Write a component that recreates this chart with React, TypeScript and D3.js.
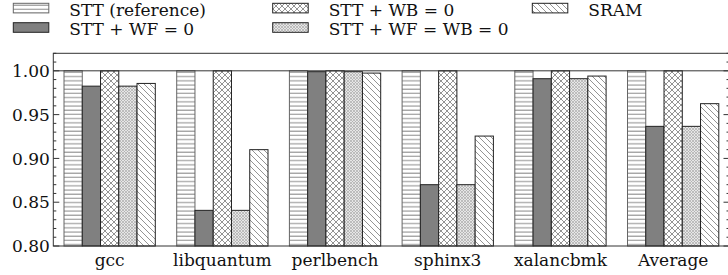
import React, { useEffect, useRef } from 'react';
import * as d3 from 'd3';

const categories = ['gcc', 'libquantum', 'perlbench', 'sphinx3', 'xalancbmk', 'Average'];
const seriesNames = ['STT (reference)', 'STT + WF = 0', 'STT + WB = 0', 'STT + WF = WB = 0', 'SRAM'];
const sttRef = [1.0, 1.0, 1.0, 1.0, 1.0, 1.0];
const sttWF = [0.9825, 0.8407, 0.999, 0.870, 0.991, 0.9366];
const sttWB = [1.0, 1.0, 1.0, 1.0, 1.0, 1.0];
const sttWFWB = [0.9825, 0.8407, 0.999, 0.870, 0.991, 0.9366];
const sram = [0.9856, 0.910, 0.9974, 0.9255, 0.994, 0.9625];
const yMajorTicks = [0.8, 0.85, 0.9, 0.95, 1.0];

const FONT = "'DejaVu Serif', serif";

const App = () => {
  const ref = useRef<SVGSVGElement | null>(null);

  useEffect(() => {
    const W = 728;
    const H = 275;
    const left = 53.3;
    const right = 729.5;
    const top = 53.3;
    const bottom = 246;

    const series = [sttRef, sttWF, sttWB, sttWFWB, sram];
    const styles = [
      { fill: 'url(#hRef)', stroke: '#666' },
      { fill: '#808080', stroke: '#222' },
      { fill: 'url(#hWB)', stroke: '#222' },
      { fill: 'url(#hWFWB)', stroke: '#222' },
      { fill: 'url(#hSRAM)', stroke: '#222' },
    ];

    const svg = d3.select(ref.current).attr('width', W).attr('height', H);
    svg.selectAll('*').remove();

    const defs = svg.append('defs');
    const pRef = defs.append('pattern').attr('id', 'hRef').attr('patternUnits', 'userSpaceOnUse')
      .attr('width', 8).attr('height', 4.2);
    pRef.append('rect').attr('width', 8).attr('height', 4.2).attr('fill', '#fff');
    pRef.append('line').attr('x1', 0).attr('x2', 8).attr('y1', 1).attr('y2', 1)
      .attr('stroke', '#8a8a8a').attr('stroke-width', 1);

    const pWB = defs.append('pattern').attr('id', 'hWB').attr('patternUnits', 'userSpaceOnUse')
      .attr('width', 6).attr('height', 6);
    pWB.append('rect').attr('width', 6).attr('height', 6).attr('fill', '#fff');
    pWB.append('path').attr('d', 'M0,0L6,6M6,0L0,6M-1,5L1,7M5,-1L7,1M-1,1L1,-1M5,7L7,5')
      .attr('stroke', '#888').attr('stroke-width', 0.9);

    const pWFWB = defs.append('pattern').attr('id', 'hWFWB').attr('patternUnits', 'userSpaceOnUse')
      .attr('width', 3).attr('height', 3);
    pWFWB.append('rect').attr('width', 3).attr('height', 3).attr('fill', '#e6e6e6');
    pWFWB.append('path').attr('d', 'M0,0L3,3M3,0L0,3')
      .attr('stroke', '#acacac').attr('stroke-width', 0.7);

    const pSRAM = defs.append('pattern').attr('id', 'hSRAM').attr('patternUnits', 'userSpaceOnUse')
      .attr('width', 6).attr('height', 6);
    pSRAM.append('rect').attr('width', 6).attr('height', 6).attr('fill', '#fff');
    pSRAM.append('path').attr('d', 'M0,0L6,6M-3,3L0,6M3,-3L9,3M3,9L6,6')
      .attr('stroke', '#888').attr('stroke-width', 0.9);

    const x0 = d3.scaleBand<string>().domain(categories).range([left, right])
      .paddingInner(0.19).paddingOuter(0.095);
    const x1 = d3.scaleBand<number>().domain(d3.range(series.length)).range([0, x0.bandwidth()]);
    const y = d3.scaleLinear().domain([0.8, 1.02]).range([bottom, top]);

    // bars
    series.forEach((vals, si) => {
      svg.append('g')
        .selectAll('rect')
        .data(vals)
        .join('rect')
        .attr('x', (_d, i) => (x0(categories[i]) as number) + (x1(si) as number))
        .attr('y', d => y(d))
        .attr('width', x1.bandwidth())
        .attr('height', d => y(0.8) - y(d))
        .attr('fill', styles[si].fill)
        .attr('stroke', styles[si].stroke)
        .attr('stroke-width', 1);
    });

    // reference line at 1.0
    svg.append('line')
      .attr('x1', left).attr('x2', right)
      .attr('y1', y(1.0)).attr('y2', y(1.0))
      .attr('stroke', '#333').attr('stroke-width', 1);

    // frame
    svg.append('rect')
      .attr('x', left).attr('y', top)
      .attr('width', right - left).attr('height', bottom - top)
      .attr('fill', 'none').attr('stroke', '#333').attr('stroke-width', 1);

    // y ticks, inward on both sides
    const minor = d3.range(80, 103).map(v => v / 100)
      .filter(v => !yMajorTicks.some(m => Math.abs(m - v) < 1e-6));
    const tg = svg.append('g').attr('stroke', '#333').attr('stroke-width', 1);
    minor.forEach(v => {
      tg.append('line').attr('x1', left).attr('x2', left + 3).attr('y1', y(v)).attr('y2', y(v));
      tg.append('line').attr('x1', right).attr('x2', right - 3).attr('y1', y(v)).attr('y2', y(v));
    });
    yMajorTicks.forEach(v => {
      tg.append('line').attr('x1', left).attr('x2', left + 6).attr('y1', y(v)).attr('y2', y(v));
      tg.append('line').attr('x1', right).attr('x2', right - 6).attr('y1', y(v)).attr('y2', y(v));
    });

    svg.append('g')
      .selectAll('text')
      .data(yMajorTicks)
      .join('text')
      .attr('x', left - 3.5)
      .attr('y', d => y(d))
      .attr('dy', '0.36em')
      .attr('text-anchor', 'end')
      .style('font-family', FONT)
      .attr('font-size', 17)
      .attr('fill', '#111')
      .text(d => d3.format('.2f')(d));

    // x labels
    svg.append('g')
      .selectAll('text')
      .data(categories)
      .join('text')
      .attr('x', d => (x0(d) as number) + x0.bandwidth() / 2)
      .attr('y', 265.5)
      .attr('text-anchor', 'middle')
      .style('font-family', FONT)
      .attr('font-size', 17)
      .attr('fill', '#111')
      .text(d => d);

    // legend, column-major in 3 columns
    const colX = [13.3, 272.7, 532.3];
    const rowY = [3.3, 22.7];
    const textBase = [15.7, 35];
    seriesNames.forEach((name, i) => {
      const c = Math.floor(i / 2);
      const r = i % 2;
      const g = svg.append('g');
      g.append('rect')
        .attr('x', colX[c]).attr('y', rowY[r])
        .attr('width', 35.5).attr('height', 9.6)
        .attr('fill', styles[i].fill)
        .attr('stroke', styles[i].stroke)
        .attr('stroke-width', 1);
      g.append('text')
        .attr('x', colX[c] + 56)
        .attr('y', textBase[r])
        .style('font-family', FONT)
        .attr('font-size', 17)
        .attr('fill', '#111')
        .text(name);
    });
  }, []);

  return (
    <svg ref={ref} style={{ position: 'absolute', left: 0, top: 0, background: '#fff' }} />
  );
};

export default App;
